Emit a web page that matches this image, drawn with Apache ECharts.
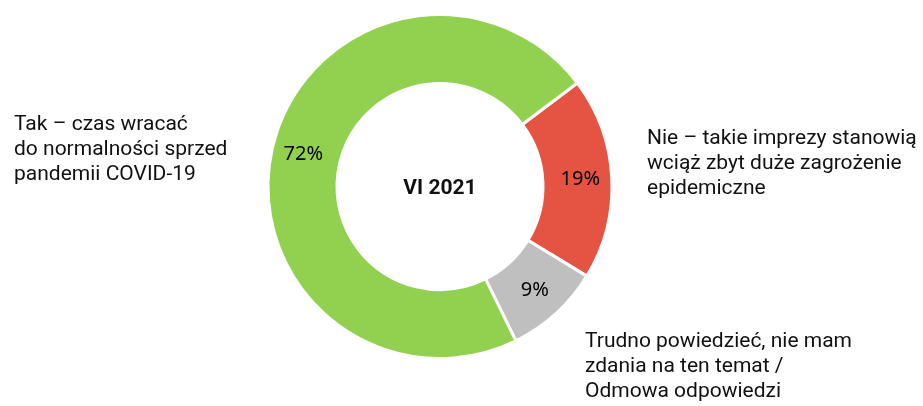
<!DOCTYPE html>
<html>
<head>
<meta charset="utf-8">
<script src="https://cdn.jsdelivr.net/npm/echarts@6/dist/echarts.min.js"></script>
<style>
  html, body { margin: 0; padding: 0; background: #fff; }
  #main { width: 923px; height: 406px; }
</style>
</head>
<body>
<div id="main"></div>
<script>
// dane
var categories = [
  'Nie – takie imprezy stanowią\nwciąż zbyt duże zagrożenie\nepidemiczne',
  'Trudno powiedzieć, nie mam\nzdania na ten temat /\nOdmowa odpowiedzi',
  'Tak – czas wracać\ndo normalności sprzed\npandemii COVID-19'
];
var values = [19, 9, 72];
var colors = ['#e55442', '#bfbfbf', '#92d050'];
var centerLabel = 'VI 2021';

// pozycje etykiet kategorii (lewy, środek pionowy)
var labelPos = [
  { x: 647, y: 164 },
  { x: 585, y: 367 },
  { x: 14, y: 150 }
];

var myChart = echarts.init(document.getElementById('main'));

var pieData = [];
for (var i = 0; i < values.length; i++) {
  pieData.push({ name: categories[i], value: values[i], itemStyle: { color: colors[i] } });
}

// etykiety kategorii jako tekst
var labels = categories.map(function (txt, i) {
  return {
    type: 'text',
    left: labelPos[i].x,
    top: labelPos[i].y - 37.5,
    silent: true,
    style: {
      text: txt,
      fontFamily: 'Roboto',
      fontSize: 21,
      lineHeight: 25,
      fill: '#111'
    }
  };
});

var option = {
  animation: false,
  title: {
    text: centerLabel,
    left: 435,
    top: 184,
    textAlign: 'center',
    textVerticalAlign: 'middle',
    textStyle: { fontFamily: 'Roboto', fontSize: 21, fontWeight: 'bold', color: '#111' }
  },
  graphic: labels,
  series: [
    {
      type: 'pie',
      center: [440, 186.5],
      radius: [103, 172],
      startAngle: 37,
      clockwise: true,
      silent: true,
      itemStyle: { borderColor: '#fff', borderWidth: 3 },
      label: {
        show: true,
        position: 'inside',
        formatter: '{c}%',
        fontFamily: 'Noto Sans',
        fontSize: 20,
        color: '#000'
      },
      labelLine: { show: false },
      data: pieData
    }
  ]
};

myChart.setOption(option);
</script>
</body>
</html>
